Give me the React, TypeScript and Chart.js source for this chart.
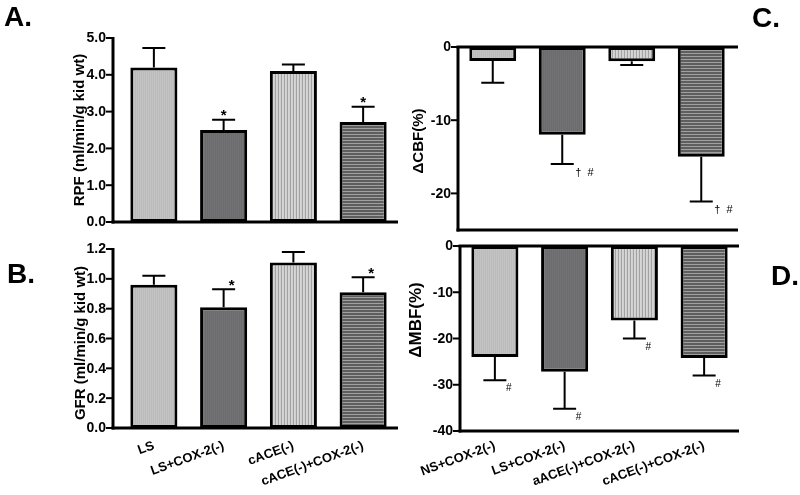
import React, { useEffect, useRef } from "react";
import { Chart, registerables } from "chart.js";

Chart.register(...registerables);

const FONT = 'Arial, "Liberation Sans", Helvetica, sans-serif';

// ---- data ----
const groupsAB = ["LS", "LS+COX-2(-)", "cACE(-)", "cACE(-)+COX-2(-)"];
const groupsCD = ["NS+COX-2(-)", "LS+COX-2(-)", "aACE(-)+COX-2(-)", "cACE(-)+COX-2(-)"];

const rpfMean = [4.2, 2.5, 4.1, 2.72];
const rpfSem = [0.53, 0.28, 0.18, 0.41];
const rpfMarks = ["", "*", "", "*"];
const rpfTicks = [0, 1, 2, 3, 4, 5];

const gfrMean = [0.96, 0.81, 1.11, 0.91];
const gfrSem = [0.06, 0.12, 0.07, 0.1];
const gfrMarks = ["", "*", "", "*"];
const gfrTicks = [0, 0.2, 0.4, 0.6, 0.8, 1.0, 1.2];

const cbfMean = [-1.9, -12, -1.95, -15];
const cbfSem = [3, 4, 0.5, 6.1];
const cbfMarks = ["", "\u2020  #", "", "\u2020  #"];
const cbfTicks = [-20, -10, 0];

const mbfMean = [-24, -27.2, -16.1, -24.2];
const mbfSem = [5, 8, 3.9, 3.8];
const mbfMarks = ["#", "#", "#", "#"];
const mbfTicks = [-40, -30, -20, -10, 0];

type Panel = {
  letter: string;
  letterX: number;
  letterY: number;
  labels: string[];
  showLabels: boolean;
  labelPad: number;
  mean: number[];
  sem: number[];
  marks: string[];
  markFont: string;
  markAlign: CanvasTextAlign;
  markDx: number;
  markDy: number;
  yMin: number;
  yMax: number;
  ticks: number[];
  decimals: number;
  yTitle: string;
  titleFont: string;
  titleX: number;
  titleY: number;
  box: { left: number; top: number; width: number; height: number };
  area: { left: number; right: number; top: number; bottom: number };
  axisX: number;
  lineRight: number;
  hLines: number[];
};

const panels: Panel[] = [
  {
    letter: "A.", letterX: 4, letterY: 26,
    labels: groupsAB, showLabels: false, labelPad: 6,
    mean: rpfMean, sem: rpfSem, marks: rpfMarks,
    markFont: `bold 15px ${FONT}`, markAlign: "center", markDx: 0, markDy: 0,
    yMin: 0, yMax: 5, ticks: rpfTicks, decimals: 1,
    yTitle: "RPF (ml/min/g kid wt)", titleFont: `bold 15px ${FONT}`, titleX: 84, titleY: 130,
    box: { left: 0, top: 0, width: 400, height: 232 },
    area: { left: 119, right: 398, top: 38, bottom: 222 },
    axisX: 113, lineRight: 398, hLines: [0],
  },
  {
    letter: "B.", letterX: 7, letterY: 51,
    labels: groupsAB, showLabels: true, labelPad: 10,
    mean: gfrMean, sem: gfrSem, marks: gfrMarks,
    markFont: `bold 15px ${FONT}`, markAlign: "center", markDx: 8, markDy: 1,
    yMin: 0, yMax: 1.2, ticks: gfrTicks, decimals: 1,
    yTitle: "GFR (ml/min/g kid wt)", titleFont: `bold 15px ${FONT}`, titleX: 85, titleY: 111,
    box: { left: 0, top: 232, width: 400, height: 263 },
    area: { left: 119, right: 398, top: 17, bottom: 196 },
    axisX: 113, lineRight: 398, hLines: [0],
  },
  {
    letter: "C.", letterX: 352, letterY: 27,
    labels: groupsCD, showLabels: false, labelPad: 6,
    mean: cbfMean, sem: cbfSem, marks: cbfMarks,
    markFont: `11px ${FONT}`, markAlign: "left", markDx: 13, markDy: 12,
    yMin: -25, yMax: 0, ticks: cbfTicks, decimals: 0,
    yTitle: "\u0394CBF(%)", titleFont: `bold 15px ${FONT}`, titleX: 23, titleY: 141,
    box: { left: 400, top: 0, width: 400, height: 238 },
    area: { left: 58, right: 336, top: 47, bottom: 230 },
    axisX: 58, lineRight: 338, hLines: [0, -25],
  },
  {
    letter: "D.", letterX: 371, letterY: 50,
    labels: groupsCD, showLabels: true, labelPad: 7,
    mean: mbfMean, sem: mbfSem, marks: mbfMarks,
    markFont: `10px ${FONT}`, markAlign: "left", markDx: 11, markDy: 11,
    yMin: -40, yMax: 0, ticks: mbfTicks, decimals: 0,
    yTitle: "\u0394MBF(%)", titleFont: `bold 17px ${FONT}`, titleX: 21, titleY: 85,
    box: { left: 400, top: 235, width: 400, height: 260 },
    area: { left: 60, right: 339, top: 11, bottom: 196 },
    axisX: 60, lineRight: 339, hLines: [0, -40],
  },
];

function makePattern(ctx: CanvasRenderingContext2D, colors: string[], vertical: boolean) {
  const c = document.createElement("canvas");
  c.width = vertical ? colors.length : 1;
  c.height = vertical ? 1 : colors.length;
  const g = c.getContext("2d")!;
  colors.forEach((col, i) => {
    g.fillStyle = col;
    if (vertical) g.fillRect(i, 0, 1, 1);
    else g.fillRect(0, i, 1, 1);
  });
  return ctx.createPattern(c, "repeat")!;
}

function PanelChart({ p }: { p: Panel }) {
  const ref = useRef<HTMLCanvasElement>(null);
  useEffect(() => {
    const canvas = ref.current!;
    const ctx = canvas.getContext("2d")!;
    const fills = [
      makePattern(ctx, ["#c3c3c3", "#bbbbbb"], true),
      makePattern(ctx, ["#727274", "#6c6c6e"], true),
      makePattern(ctx, ["#d6d6d6", "#d0d0d0", "#a2a2a2"], true),
      makePattern(ctx, ["#5e5e5e", "#5e5e5e", "#a0a0a0"], false),
    ];
    const overlay = {
      id: "overlay",
      afterDatasetsDraw(chart: any) {
        const c = chart.ctx as CanvasRenderingContext2D;
        const y = chart.scales.y;
        const meta = chart.getDatasetMeta(0);
        c.save();
        c.strokeStyle = "#000";
        c.fillStyle = "#000";
        // error bars + significance marks
        c.lineWidth = 2;
        meta.data.forEach((bar: any, i: number) => {
          const v = p.mean[i];
          const e = v >= 0 ? v + p.sem[i] : v - p.sem[i];
          const y0 = y.getPixelForValue(v);
          const y1 = y.getPixelForValue(e);
          c.beginPath();
          c.moveTo(bar.x, y0);
          c.lineTo(bar.x, y1);
          c.moveTo(bar.x - 11.5, y1);
          c.lineTo(bar.x + 11.5, y1);
          c.stroke();
          if (p.marks[i]) {
            c.font = p.markFont;
            c.textAlign = p.markAlign;
            c.textBaseline = "alphabetic";
            c.fillText(p.marks[i], bar.x + p.markDx, y1 + p.markDy);
          }
        });
        // axis lines
        c.lineWidth = 3;
        c.beginPath();
        c.moveTo(p.axisX, y.getPixelForValue(p.yMax) - 1);
        c.lineTo(p.axisX, y.getPixelForValue(p.yMin) + 1.5);
        c.stroke();
        p.hLines.forEach((v) => {
          const yy = y.getPixelForValue(v);
          c.beginPath();
          c.moveTo(p.axisX - 1.5, yy);
          c.lineTo(p.lineRight, yy);
          c.stroke();
        });
        // tick marks and tick labels
        c.lineWidth = 2;
        c.font = `bold 14px ${FONT}`;
        c.textAlign = "right";
        c.textBaseline = "middle";
        p.ticks.forEach((v) => {
          const yy = y.getPixelForValue(v);
          c.beginPath();
          c.moveTo(p.axisX - 7, yy);
          c.lineTo(p.axisX, yy);
          c.stroke();
          c.fillText(v.toFixed(p.decimals), p.axisX - 7, yy + 0.5);
        });
        // y title
        c.font = p.titleFont;
        c.textAlign = "center";
        c.textBaseline = "alphabetic";
        c.save();
        c.translate(p.titleX, p.titleY);
        c.rotate(-Math.PI / 2);
        c.fillText(p.yTitle, 0, 0);
        c.restore();
        // panel letter
        c.font = `bold 28px ${FONT}`;
        c.textAlign = "left";
        c.fillText(p.letter, p.letterX, p.letterY);
        c.restore();
      },
    };
    const chart = new Chart(ctx, {
      type: "bar",
      data: {
        labels: p.labels,
        datasets: [
          {
            data: p.mean,
            backgroundColor: fills as any,
            borderColor: "#000",
            borderWidth: 3,
            borderSkipped: false,
            barPercentage: 0.675,
            categoryPercentage: 1,
          },
        ],
      },
      options: {
        animation: false,
        responsive: false,
        maintainAspectRatio: false,
        layout: {
          padding: { top: p.area.top, right: p.box.width - p.area.right, left: 0, bottom: 0 },
        },
        plugins: { legend: { display: false }, tooltip: { enabled: false } },
        scales: {
          x: {
            type: "category",
            offset: true,
            grid: { display: false, drawTicks: false },
            border: { display: false },
            ticks: {
              display: p.showLabels,
              minRotation: 20,
              maxRotation: 20,
              autoSkip: false,
              padding: p.labelPad,
              color: "#000",
              font: { family: FONT, size: 13, weight: "bold" },
            },
            afterFit: (s: any) => {
              s.height = p.box.height - p.area.bottom;
            },
          },
          y: {
            type: "linear",
            min: p.yMin,
            max: p.yMax,
            grid: { display: false, drawTicks: false },
            border: { display: false },
            ticks: { display: false },
            afterBuildTicks: (s: any) => {
              s.ticks = p.ticks.map((v) => ({ value: v }));
            },
            afterFit: (s: any) => {
              s.width = p.area.left;
            },
          },
        },
      },
      plugins: [overlay],
    });
    return () => chart.destroy();
  }, []);
  return (
    <canvas
      ref={ref}
      width={p.box.width}
      height={p.box.height}
      style={{
        position: "absolute",
        left: p.box.left,
        top: p.box.top,
        width: p.box.width,
        height: p.box.height,
      }}
    />
  );
}

export default function App() {
  return (
    <div
      style={{
        position: "absolute",
        left: 0,
        top: 0,
        width: 800,
        height: 495,
        background: "#fff",
        overflow: "hidden",
      }}
    >
      {panels.map((p) => (
        <PanelChart key={p.letter} p={p} />
      ))}
    </div>
  );
}
